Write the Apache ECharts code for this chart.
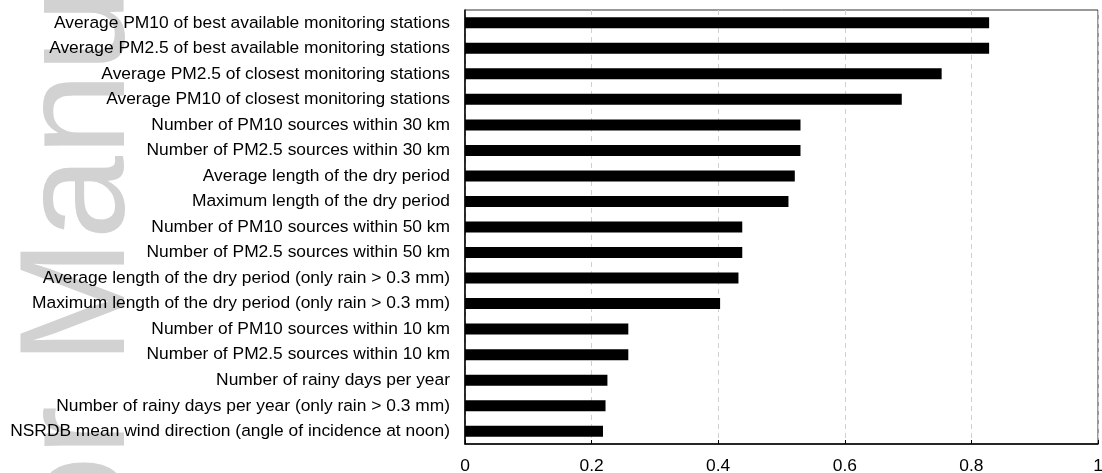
<!DOCTYPE html>
<html>
<head>
<meta charset="utf-8">
<script src="https://cdn.jsdelivr.net/npm/echarts@6/dist/echarts.min.js"></script>
<style>
  html, body { margin: 0; padding: 0; background: #fff; }
  #chart { width: 1102px; height: 473px; }
</style>
</head>
<body>
<div id="chart"></div>
<script>
// Predictor names, top to bottom
const categories = [
  'Average PM10 of best available monitoring stations',
  'Average PM2.5 of best available monitoring stations',
  'Average PM2.5 of closest monitoring stations',
  'Average PM10 of closest monitoring stations',
  'Number of PM10 sources within 30 km',
  'Number of PM2.5 sources within 30 km',
  'Average length of the dry period',
  'Maximum length of the dry period',
  'Number of PM10 sources within 50 km',
  'Number of PM2.5 sources within 50 km',
  'Average length of the dry period (only rain > 0.3 mm)',
  'Maximum length of the dry period (only rain > 0.3 mm)',
  'Number of PM10 sources within 10 km',
  'Number of PM2.5 sources within 10 km',
  'Number of rainy days per year',
  'Number of rainy days per year (only rain > 0.3 mm)',
  'NSRDB mean wind direction (angle of incidence at noon)'
];

// Importance value of each predictor
const importance = [
  0.828, 0.828, 0.753, 0.690, 0.530, 0.530, 0.521, 0.511,
  0.438, 0.438, 0.432, 0.403, 0.258, 0.258, 0.225, 0.222, 0.218
];

// Horizontal axis tick labels
const xTickLabels = ['0', '0.2', '0.4', '0.6', '0.8', '1'];

const FONT = '"Liberation Sans", Arial, sans-serif';

const chart = echarts.init(document.getElementById('chart'), null, { renderer: 'canvas' });

chart.setOption({
  animation: false,
  backgroundColor: '#ffffff',
  graphic: [{
    // faint vertical watermark behind the labels
    type: 'text',
    z: -10,
    silent: true,
    x: 83,
    y: 848,
    rotation: Math.PI / 2,
    style: {
      text: 'Author Manuscript',
      font: '150px ' + FONT,
      fill: '#d2d2d2',
      align: 'left',
      verticalAlign: 'middle'
    }
  }],
  grid: {
    left: 465,
    right: 4,
    top: 10,
    bottom: 29,
    containLabel: false,
    outerBoundsMode: 'none',
    show: true,
    borderColor: '#333',
    borderWidth: 1,
    backgroundColor: 'transparent'
  },
  xAxis: {
    type: 'value',
    min: 0,
    max: 1,
    interval: 0.2,
    axisLine: { show: true, onZero: false, lineStyle: { color: '#000', width: 1.5 } },
    axisTick: { show: true, inside: true, length: 4, lineStyle: { color: '#000', width: 1 } },
    axisLabel: {
      show: true,
      color: '#000',
      fontFamily: FONT,
      fontSize: 17.4,
      margin: 14,
      formatter: v => xTickLabels[Math.round(v / 0.2)]
    },
    splitLine: { show: true, lineStyle: { color: '#d0d0d0', width: 1, type: [5, 4] } }
  },
  yAxis: {
    type: 'category',
    data: categories,
    inverse: true,
    axisLine: { show: true, lineStyle: { color: '#000', width: 1.5 } },
    axisTick: { show: false },
    splitLine: { show: false },
    axisLabel: {
      show: true,
      color: '#000',
      fontFamily: FONT,
      fontSize: 17.4,
      margin: 15,
      interval: 0
    }
  },
  series: [{
    type: 'bar',
    data: importance,
    barWidth: 11,
    itemStyle: { color: '#000' },
    z: 2
  }]
});
</script>
</body>
</html>
